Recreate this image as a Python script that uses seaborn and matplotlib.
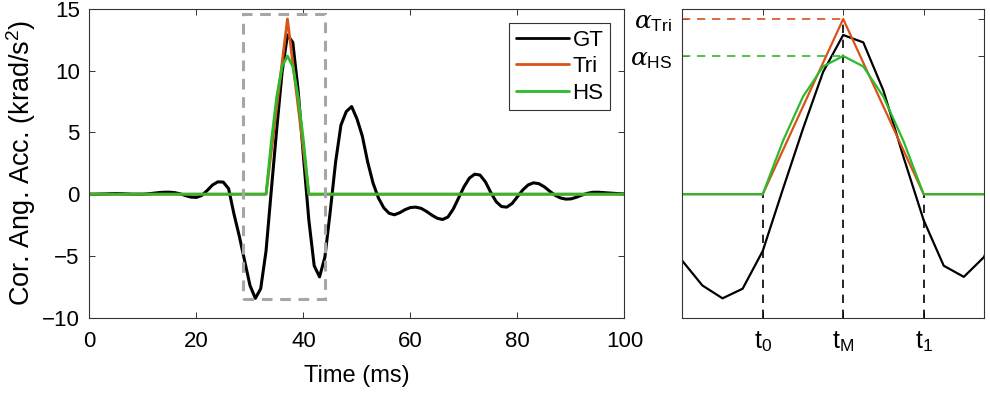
import numpy as np
import pandas as pd
import seaborn as sns
import matplotlib
matplotlib.use("Agg")
import matplotlib.pyplot as plt
from matplotlib.patches import Rectangle

# ground truth, 1 ms samples, 0..100 ms
gt_ms = list(range(0, 101))
gt_acc = [
    0.00, 0.00, 0.01, 0.02, 0.04, 0.05, 0.04, 0.02, 0.00, 0.00,
    0.00, 0.03, 0.08, 0.13, 0.16, 0.16, 0.12, 0.02, -0.12, -0.24,
    -0.26, -0.10, 0.30, 0.75, 1.00, 0.98, 0.45, -1.60, -3.40, -5.40,
    -7.40, -8.44, -7.66, -4.60, 0.40, 5.30, 9.90, 12.90, 12.30, 8.40,
    3.00, -2.10, -5.80, -6.70, -5.10, -1.40, 2.60, 5.60, 6.70, 7.10,
    6.10, 4.70, 2.60, 0.90, -0.30, -1.10, -1.55, -1.67, -1.50, -1.25,
    -1.08, -1.05, -1.15, -1.40, -1.70, -1.95, -2.05, -1.85, -1.20, -0.30,
    0.60, 1.30, 1.62, 1.55, 1.00, 0.15, -0.60, -1.00, -1.05, -0.75,
    -0.20, 0.35, 0.75, 0.92, 0.85, 0.60, 0.25, -0.08, -0.30, -0.40,
    -0.38, -0.25, -0.08, 0.06, 0.15, 0.16, 0.13, 0.10, 0.07, 0.04, 0.02,
]

# triangular pulse
tri_ms = [0, 33, 37, 41, 100]
tri_acc = [0, 0, 14.2, 0, 0]

# half-sine pulse
hs_ms = [0, 33, 34, 35, 36, 37, 38, 39, 40, 41, 100]
hs_acc = [0, 0, 4.3, 7.9, 10.35, 11.2, 10.35, 7.9, 4.3, 0, 0]

# key times / amplitudes
t0, tM, t1 = 33, 37, 41
alpha_tri, alpha_hs = 14.2, 11.2

# zoom window shown on the right
zoom_ms = [29, 44]
zoom_box_ms = [28.7, 44.0]
zoom_box_acc = [-8.5, 14.6]

C_GT = "black"
C_TRI = "#D95319"
C_HS = "#2DBA2D"

sns.set_theme(style="ticks")
plt.rcParams["font.family"] = ["Liberation Sans", "DejaVu Sans"]
plt.rcParams["mathtext.fontset"] = "custom"
plt.rcParams["mathtext.rm"] = "Liberation Sans"
plt.rcParams["mathtext.sf"] = "Liberation Sans"
plt.rcParams["mathtext.it"] = "DejaVu Serif:italic"
plt.rcParams["text.color"] = "black"
plt.rcParams["axes.labelcolor"] = "black"

fig = plt.figure(figsize=(9.9, 3.95), dpi=100)
ax1 = fig.add_axes([0.0904, 0.196, 0.5404, 0.781])
ax2 = fig.add_axes([0.6892, 0.196, 0.3047, 0.781])

gt = pd.DataFrame({"t": gt_ms, "a": gt_acc})
tri = pd.DataFrame({"t": tri_ms, "a": tri_acc})
hs = pd.DataFrame({"t": hs_ms, "a": hs_acc})

# ---- left: full signal
sns.lineplot(data=gt, x="t", y="a", ax=ax1, color=C_GT, lw=2.2, label="GT",
             estimator=None, sort=False)
sns.lineplot(data=tri, x="t", y="a", ax=ax1, color=C_TRI, lw=2.0, label="Tri",
             estimator=None, sort=False)
sns.lineplot(data=hs, x="t", y="a", ax=ax1, color=C_HS, lw=2.0, label="HS",
             estimator=None, sort=False)

ax1.add_patch(Rectangle((zoom_box_ms[0], zoom_box_acc[0]),
                        zoom_box_ms[1] - zoom_box_ms[0],
                        zoom_box_acc[1] - zoom_box_acc[0],
                        fill=False, ec="#A6A6A6", lw=2.2, ls=(0, (3.5, 2.5)),
                        zorder=5))

ax1.set_xlim(0, 100)
ax1.set_ylim(-10, 15)
ax1.set_xticks(range(0, 101, 20))
ax1.set_yticks(range(-10, 16, 5))
ax1.set_xlabel("Time (ms)", fontsize=17, labelpad=9)
ax1.set_ylabel("Cor. Ang. Acc. (krad/s$^2$)", fontsize=19.5, labelpad=3)

leg = ax1.legend(loc="upper right", bbox_to_anchor=(0.973, 0.955),
                 borderaxespad=0, fontsize=16, handlelength=2.4,
                 handletextpad=0.15, labelspacing=0.25, borderpad=0.3,
                 fancybox=False, framealpha=1, edgecolor="#333333")
leg.get_frame().set_linewidth(0.8)
for h in leg.get_lines():
    h.set_linewidth(2.0)

# ---- right: zoomed pulse
sns.lineplot(data=gt, x="t", y="a", ax=ax2, color=C_GT, lw=1.6,
             estimator=None, sort=False)
sns.lineplot(data=tri, x="t", y="a", ax=ax2, color=C_TRI, lw=1.6,
             estimator=None, sort=False)
sns.lineplot(data=hs, x="t", y="a", ax=ax2, color=C_HS, lw=1.6,
             estimator=None, sort=False)

ax2.set_xlim(zoom_ms)
ax2.set_ylim(-10, 15)
ymin = ax2.get_ylim()[0]
dash = (0, (5, 4))
ax2.vlines([t0, tM, t1], ymin, [0, alpha_tri, 0], colors="black", lw=1.2,
           linestyles=[dash], zorder=1)
ax2.hlines(alpha_tri, zoom_ms[0], tM, colors=C_TRI, lw=1.2, linestyles=[dash])
ax2.hlines(alpha_hs, zoom_ms[0], tM, colors=C_HS, lw=1.2, linestyles=[dash])

ax2.set_xticks([t0, tM, t1])
ax2.set_xticklabels([r"$\mathrm{t}_\mathrm{0}$", r"$\mathrm{t}_\mathrm{M}$",
                     r"$\mathrm{t}_\mathrm{1}$"])
ax2.set_yticks([alpha_hs, alpha_tri])
ax2.set_yticklabels([r"$\alpha_\mathrm{HS}$", r"$\alpha_\mathrm{Tri}$"])
ax2.set_xlabel("")
ax2.set_ylabel("")

for ax in (ax1, ax2):
    ax.tick_params(direction="in", top=True, right=True, length=4,
                   width=0.7, color="#333333", labelsize=16, pad=7,
                   labelcolor="black")
    ax.tick_params(axis="x", pad=10)
    for s in ax.spines.values():
        s.set_linewidth(0.8)
        s.set_color("#333333")
        s.set_visible(True)
ax2.tick_params(labelsize=18)
ax2.tick_params(axis="x", pad=8)

fig.savefig("out.png", dpi=100)
